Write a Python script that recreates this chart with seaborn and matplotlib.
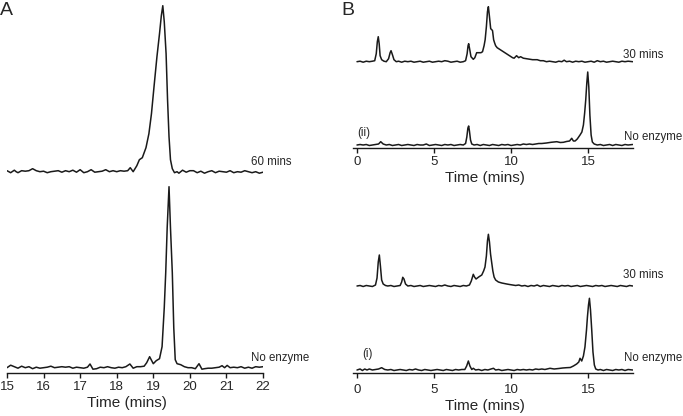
import matplotlib
matplotlib.use("Agg")
import matplotlib.pyplot as plt
import seaborn as sns

# ---- Panel A: 60 mins vs no enzyme (time, signal) ----
a_60_t = [15.0, 15.05, 15.1, 15.2, 15.25, 15.3, 15.4, 15.5, 15.6, 15.7, 15.8, 15.9,
          16.0, 16.1, 16.2, 16.3, 16.4, 16.5, 16.6, 16.7, 16.8, 16.9, 17.0, 17.1,
          17.2, 17.3, 17.4, 17.5, 17.6, 17.7, 17.8, 17.9, 18.0, 18.1, 18.2, 18.3,
          18.37, 18.45, 18.55, 18.62, 18.7, 18.8, 18.88, 18.95, 19.02, 19.1, 19.17,
          19.22, 19.26, 19.3, 19.35, 19.39, 19.43, 19.47, 19.52, 19.58, 19.65, 19.7,
          19.8, 19.9, 20.0, 20.1, 20.2, 20.3, 20.4, 20.5, 20.6, 20.7, 20.8, 20.9,
          21.0, 21.1, 21.2, 21.3, 21.4, 21.5, 21.6, 21.7, 21.8, 21.9, 22.0]
a_60_y = [1, 0, -1, 1.5, 0, -1, 1, 0.5, 1, 3, 1, 0,
          0.5, -1, 0, 0.5, 1, -0.5, 1, 0, 1.5, -0.5, 2, -1,
          0, 2, -0.5, 0, 0.5, 2, 0, 1, 0, 1, 0.5, 1,
          4, 0, 6, 12, 14, 24, 38, 58, 85, 115, 138,
          156, 166, 150, 118, 72, 35, 12, 3, -1, 0, -1.5,
          1.5, -0.5, 1, 1, -1, 0.5, -1.5, 0, 1, -1, 0.5, 0,
          -0.5, 1, -1, 0, -0.5, 1, 0, -1, 0, -1.5, -0.5]

a_ne_t = [15.0, 15.1, 15.2, 15.3, 15.4, 15.5, 15.6, 15.7, 15.8, 15.9, 16.0, 16.1,
          16.2, 16.3, 16.4, 16.5, 16.6, 16.7, 16.8, 16.9, 17.0, 17.1, 17.2, 17.27,
          17.35, 17.45, 17.55, 17.65, 17.75, 17.85, 17.95, 18.05, 18.15, 18.25, 18.36,
          18.45, 18.55, 18.65, 18.75, 18.82, 18.9, 19.0, 19.08, 19.17, 19.24, 19.3,
          19.34, 19.38, 19.43, 19.47, 19.52, 19.56, 19.6, 19.65, 19.75, 19.85, 19.95,
          20.05, 20.15, 20.25, 20.33, 20.4, 20.5, 20.6, 20.7, 20.8, 20.88, 20.95, 21.02,
          21.1, 21.2, 21.3, 21.4, 21.5, 21.6, 21.7, 21.8, 21.9, 22.0]
a_ne_y = [0, 2.5, 1, -0.5, 1.5, 0, 1, -1, 0.5, -0.5, 0, 0.5,
          1.5, 0, 0.5, 1, 0.5, 1, -0.5, 0.5, 0, -0.5, 0.5, 3.7,
          -1.5, -1, 0.5, 0, 1, 0, -0.5, 0.5, 0, 1, 3.7,
          -0.5, 1, 1, 1.5, 5, 11, 4, 7, 9, 21, 60,
          95, 140, 181, 140, 95, 40, 8, 4, 3, 1, 0,
          0, -1, 4, -1.5, -1, -0.5, -0.5, 0, 0.5, 2, 0, 2.3,
          0, 0.5, 0, 1, -0.5, 0.5, -0.5, 1, 0.5, 1]

# ---- Panel B (ii): 30 mins vs no enzyme ----
b2_30_t = [0.0, 0.2, 0.4, 0.6, 0.8, 1.0, 1.15, 1.25, 1.32, 1.38, 1.44, 1.5, 1.6, 1.75,
           1.9, 2.05, 2.15, 2.21, 2.3, 2.4, 2.55, 2.7, 2.9, 3.1, 3.3, 3.5, 3.7, 3.9,
           4.1, 4.3, 4.5, 4.7, 4.9, 5.1, 5.3, 5.5, 5.7, 5.9, 6.1, 6.3, 6.5, 6.7, 6.9,
           7.05, 7.15, 7.21, 7.25, 7.31, 7.4, 7.55, 7.65, 7.77, 7.9, 8.05, 8.15, 8.25,
           8.32, 8.4, 8.47, 8.53, 8.6, 8.68, 8.75, 8.8, 8.87, 8.93, 9.0, 9.1, 9.2, 9.3,
           9.4, 9.5, 9.6, 9.7, 9.8, 9.9, 10.0, 10.1, 10.2, 10.36, 10.5, 10.62, 10.8,
           11.0, 11.2, 11.4, 11.7, 11.9, 12.1, 12.3, 12.5, 12.7, 12.9, 13.1, 13.3,
           13.45, 13.6, 13.8, 14.0, 14.2, 14.4, 14.6, 14.8, 15.0, 15.2, 15.4, 15.6,
           15.8, 16.0, 16.2, 16.4, 16.6, 16.8, 17.0, 17.2, 17.4, 17.6, 17.9]
b2_30_y = [0, 0.5, -0.5, 0.5, 0, 0.5, 1, 8, 20, 25, 18, 6, 2, 0.5,
           0, 3, 9, 11, 7, 2, 0, 0.5, -0.5, 0.5, 0, 0.5, -0.5, 0,
           0.5, -0.5, 0, 0.5, -0.5, 0, 0.5, 0, 1, 0.5, -0.5, 0, 0.5, -0.5, 0,
           1, 8, 16, 18, 13, 5, 2.4, 4, 9, 9, 9, 10, 16,
           22, 35, 50, 55, 45, 33, 32, 31, 22, 19, 16, 14, 13, 12,
           11, 10, 9, 8, 7, 6, 5, 4, 3.5, 6, 4, 5, 3.5,
           3, 2.5, 2, 2, 1, 1, 0, 0.5, 0, -0.5, 0.5, 0,
           1.5, 0, 0.5, -0.5, 0.5, 0, 0.5, -0.5, 0, 0.5, -0.5, 1,
           0, 0.5, -0.5, 0, 0.5, 0, -0.5, 0.5, 0, 0.5, 0]

b2_ne_t = [0.0, 0.2, 0.4, 0.6, 0.8, 1.0, 1.2, 1.4, 1.54, 1.7, 1.9, 2.1, 2.3, 2.5,
           2.7, 2.9, 3.1, 3.3, 3.5, 3.7, 3.9, 4.1, 4.3, 4.5, 4.7, 4.9, 5.1, 5.3,
           5.5, 5.7, 5.9, 6.1, 6.3, 6.5, 6.7, 6.9, 7.05, 7.13, 7.2, 7.25, 7.3, 7.37,
           7.45, 7.6, 7.8, 8.0, 8.2, 8.4, 8.6, 8.8, 9.0, 9.2, 9.4, 9.6, 9.8, 10.0,
           10.2, 10.4, 10.6, 10.8, 11.0, 11.2, 11.4, 11.6, 11.8, 12.0, 12.3, 12.6,
           12.97, 13.2, 13.4, 13.6, 13.8, 13.94, 14.05, 14.16, 14.3, 14.48, 14.6,
           14.7, 14.78, 14.85, 14.92, 14.98, 15.05, 15.12, 15.2, 15.28, 15.4, 15.6,
           15.8, 16.0, 16.2, 16.4, 16.6, 16.8, 17.0, 17.2, 17.4, 17.6, 17.9]
b2_ne_y = [0, 0.5, 0, 0.5, -0.5, 0, 0.5, 1, 3.3, 1, 0, 0.5, -0.5, 0,
           0.5, -0.5, 0, 0.5, 0, -0.5, 0.5, 0, 0, 1, -0.5, 0, 0.5, 0,
           -0.5, 0.5, 0, 0.5, -0.5, 0, 0.5, 0, 1.5, 8, 17, 19, 14, 5,
           1, 0, 0.5, -0.5, 0.5, 0, -0.5, 0.5, 0, -0.5, 0.5, 0, 0.5, -0.5,
           0, 0.5, 0, 1, 0.5, 1, 0.5, 1, 1.5, 1.5, 2, 2.7,
           3.3, 2.5, 2.7, 3.5, 4, 6.7, 4, 4, 6, 10, 13,
           20, 32, 45, 62, 73, 58, 30, 10, 3, 1, 0,
           0.5, -0.5, 0, 0.5, -0.5, 0.5, 0, -0.5, 0.5, 0, 0.5]

# ---- Panel B (i): 30 mins vs no enzyme ----
b1_30_t = [0.0, 0.2, 0.4, 0.6, 0.8, 1.0, 1.2, 1.3, 1.38, 1.45, 1.52, 1.6, 1.7, 1.85,
           2.0, 2.2, 2.4, 2.6, 2.8, 2.9, 2.97, 3.05, 3.15, 3.3, 3.5, 3.7, 3.9, 4.1,
           4.3, 4.5, 4.7, 4.9, 5.1, 5.3, 5.5, 5.7, 5.9, 6.1, 6.3, 6.5, 6.7, 6.9,
           7.1, 7.3, 7.42, 7.55, 7.63, 7.73, 7.9, 8.1, 8.22, 8.31, 8.4, 8.47, 8.53,
           8.6, 8.67, 8.74, 8.82, 8.9, 9.0, 9.18, 9.4, 9.72, 9.9, 10.1, 10.3, 10.5,
           10.7, 10.9, 11.1, 11.3, 11.5, 11.7, 11.9, 12.1, 12.3, 12.5, 12.7, 12.9,
           13.1, 13.3, 13.5, 13.7, 13.9, 14.1, 14.3, 14.5, 14.7, 14.9, 15.1, 15.3,
           15.5, 15.7, 15.9, 16.1, 16.3, 16.5, 16.7, 16.9, 17.1, 17.3, 17.5, 17.7, 17.9]
b1_30_y = [0, 0.5, -0.5, 0.5, 0, -0.5, 1, 8, 24, 31, 20, 6, 2, 0.5,
           0, 0.5, -0.5, 0, 0.5, 4, 8.7, 7, 2, 0, 0.5, -0.5, 0, 0.5,
           -0.5, 0, 0.5, 0, -0.5, 0.5, 0, 1, 0, -0.5, 0.5, 0, -0.5, 0.5,
           0, 1, 5, 11.7, 9, 7, 9, 11, 15, 19, 30, 45, 51.7,
           44, 32, 24, 15, 9, 6, 4, 3, 2, 1.5, 1, 0.5, 1,
           0, 0.5, -0.5, 0.5, 0, 1, -0.5, 0.5, 0, -0.5, 0.5, 0,
           -0.5, 0.5, 0, 0.5, -0.5, 0, 0.5, -0.5, 0, 0.5, 0, -0.5,
           0.5, 0, 0.5, -0.5, 0, 0.5, 0, -0.5, 0.5, 0, -0.5, 0.5, 0]

b1_ne_t = [0.0, 0.2, 0.35, 0.5, 0.65, 0.8, 1.0, 1.2, 1.4, 1.6, 1.8, 2.0, 2.2, 2.4,
           2.6, 2.8, 3.0, 3.2, 3.4, 3.6, 3.8, 4.0, 4.2, 4.4, 4.6, 4.8, 5.0, 5.2,
           5.4, 5.6, 5.8, 6.0, 6.2, 6.4, 6.6, 6.8, 7.0, 7.12, 7.23, 7.33, 7.45, 7.55,
           7.7, 7.9, 8.1, 8.3, 8.5, 8.7, 8.86, 9.0, 9.2, 9.4, 9.6, 9.8, 10.0, 10.2,
           10.4, 10.6, 10.8, 11.0, 11.2, 11.4, 11.6, 11.8, 12.0, 12.2, 12.53, 12.8,
           13.1, 13.35, 13.6, 13.85, 14.05, 14.26, 14.4, 14.48, 14.59, 14.7, 14.8,
           14.9, 14.96, 15.03, 15.09, 15.16, 15.24, 15.32, 15.41, 15.5, 15.65, 15.8,
           16.0, 16.2, 16.4, 16.6, 16.8, 17.0, 17.2, 17.4, 17.6, 17.9]
b1_ne_y = [0, 1, -0.5, 1, 0, 1, 0, 0.5, 1, 2.3, 0.5, 0, 0.5, -0.5,
           0, 0.5, 0, -0.5, 0.5, 0, 1, 0, -0.5, 0.5, 0, -0.5, 0, 0.5,
           0, -0.5, 0.5, 0, -0.5, 0.5, 0, 0.5, 0.5, 4, 9, 4, 0.5, 1.7,
           0, 0.5, -0.5, 0.5, 0, 1, 1.7, 0, 0.5, -0.5, 0, 0.5, 0, -0.5,
           0.5, 0, 0.5, 0, 0.5, 0, 1, 0.5, 1, 0.5, 1.7, 1,
           1.5, 2, 2.3, 2.5, 4, 6, 8, 11.7, 9, 14, 23,
           40, 53, 65, 71.7, 60, 40, 18, 5, 1, 0, 0.5,
           -0.5, 0.5, 0, -0.5, 0.5, 0, 0.5, -0.5, 0.5, 0]

sns.set_style("ticks")
plt.rcParams['font.family'] = ['Liberation Sans', 'DejaVu Sans']

fig = plt.figure(figsize=(6.83, 4.16), dpi=100)
ax_a = fig.add_axes([0.01025, 0.10337, 0.37482, 0.88942])
ax_b2 = fig.add_axes([0.51706, 0.64423, 0.4093, 0.34856])
ax_b1 = fig.add_axes([0.51706, 0.10337, 0.4093, 0.35577])

line = dict(color="#1a1a1a", linewidth=1.1, estimator=None, sort=False)


def shifted(vals, off):
    return [v + off for v in vals]


# panel A traces
sns.lineplot(x=a_60_t, y=shifted(a_60_y, 201.3), ax=ax_a, **line)
sns.lineplot(x=a_ne_t, y=shifted(a_ne_y, 5.3), ax=ax_a, **line)
ax_a.set_xlim(15, 22)
ax_a.set_ylim(0, 370)
ax_a.set_xticks(range(15, 23))
ax_a.text(21.67, 211, "60 mins", fontsize=8.3, va="center", clip_on=False)
ax_a.text(21.67, 15, "No enzyme", fontsize=8.3, va="center", clip_on=False)

# panel B (ii)
sns.lineplot(x=b2_30_t, y=shifted(b2_30_y, 86.3), ax=ax_b2, **line)
sns.lineplot(x=b2_ne_t, y=shifted(b2_ne_y, 3), ax=ax_b2, **line)
ax_b2.set_ylim(0, 145)
ax_b2.text(17.27, 93, "30 mins", fontsize=8.3, va="center", clip_on=False)
ax_b2.text(17.34, 11, "No enzyme", fontsize=8.3, va="center", clip_on=False)
ax_b2.text(0.0, 15, "(ii)", fontsize=8.3, va="center")

# panel B (i)
sns.lineplot(x=b1_30_t, y=shifted(b1_30_y, 87), ax=ax_b1, **line)
sns.lineplot(x=b1_ne_t, y=shifted(b1_ne_y, 3), ax=ax_b1, **line)
ax_b1.set_ylim(0, 148)
ax_b1.text(17.27, 98, "30 mins", fontsize=8.3, va="center", clip_on=False)
ax_b1.text(17.34, 15, "No enzyme", fontsize=8.3, va="center", clip_on=False)
ax_b1.text(0.37, 19, "(i)", fontsize=8.3, va="center")

for ax in (ax_b2, ax_b1):
    ax.set_xlim(-0.25, 17.9)
    ax.set_xticks([0, 5, 10, 15])

for ax in (ax_a, ax_b2, ax_b1):
    ax.set_yticks([])
    ax.set_ylabel("")
    for s in ("left", "top", "right"):
        ax.spines[s].set_visible(False)
    ax.spines["bottom"].set_linewidth(1.0)
    ax.spines["bottom"].set_color("#1a1a1a")
    ax.tick_params(axis="x", direction="out", length=3.6, width=1.0,
                   labelsize=9.5, pad=2, color="#1a1a1a")
    ax.set_facecolor("none")
    ax.set_xlabel("Time (mins)", fontsize=11)

ax_b1.tick_params(axis="x", pad=4.5)
ax_a.xaxis.set_label_coords(0.47, -0.062)
ax_b2.xaxis.set_label_coords(0.47, -0.16)
ax_b1.xaxis.set_label_coords(0.47, -0.178)

fig.text(0.0, 0.995, "A", fontsize=14, va="top", ha="left")
fig.text(0.5, 0.995, "B", fontsize=14, va="top", ha="left")

fig.savefig("out.png", dpi=100)
